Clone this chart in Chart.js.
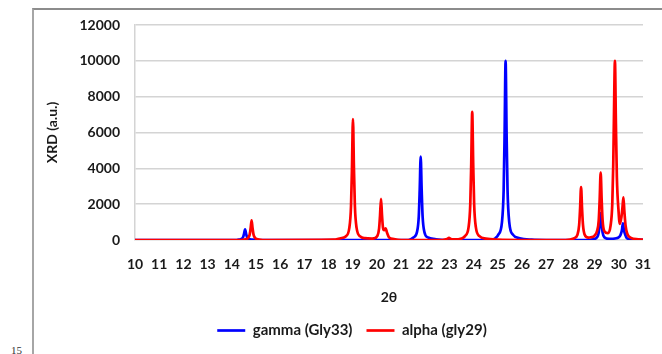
<!DOCTYPE html>
<html>
<head>
<meta charset="utf-8">
<script src="https://cdn.jsdelivr.net/npm/chart.js@4/dist/chart.umd.min.js"></script>
<style>
  html, body { margin: 0; padding: 0; background: #fff; }
  #wrap { position: relative; width: 662px; height: 354px; overflow: hidden; }
  #frame { position: absolute; left: 32px; top: 8px; right: -4px; bottom: -4px;
           border-left: 2px solid #a6a6a6; border-top: 2px solid #8c8c8c; }
  #pageno { position: absolute; left: 11px; top: 344px; font: 11px "Liberation Serif", serif; color: #333; }
  canvas { position: absolute; left: 0; top: 0; }
</style>
</head>
<body>
<div id="wrap">
  <div id="frame"></div>
  <span id="pageno">15</span>
  <canvas id="xrd" width="662" height="354"></canvas>
</div>
<script>
// 2-theta positions and intensities, per pattern
const gammaTheta = [10, 14.2, 14.3, 14.4, 14.47, 14.51, 14.55, 14.59, 14.63, 14.7, 14.85, 15.2,
  21.3, 21.51, 21.66, 21.73, 21.77, 21.81, 21.85, 21.89, 21.96, 22.11, 22.4, 22.8,
  24.7, 24.9, 25.02, 25.17, 25.24, 25.28, 25.32, 25.36, 25.4, 25.47, 25.62, 25.9, 26.4, 27,
  28.7, 28.95, 29.1, 29.17, 29.21, 29.25, 29.29, 29.33, 29.4, 29.6, 29.9, 30.0, 30.07, 30.13,
  30.17, 30.21, 30.27, 30.32, 30.5, 31];
const gammaXrd = [0, 0, 20, 60, 170, 360, 600, 360, 170, 60, 20, 0,
  0, 140, 465, 1300, 2800, 4650, 2800, 1300, 465, 140, 50, 0,
  0, 100, 300, 1000, 2800, 6000, 10000, 6000, 2800, 1000, 300, 100, 20, 0,
  0, 50, 150, 420, 900, 1500, 900, 420, 150, 60, 100, 150, 280, 560,
  930, 560, 280, 120, 40, 10];

const alphaTheta = [10, 14.4, 14.52, 14.67, 14.74, 14.78, 14.82, 14.86, 14.9, 14.97, 15.12, 15.5,
  18.2, 18.5, 18.71, 18.86, 18.93, 18.97, 19.01, 19.05, 19.09, 19.16, 19.31, 19.5, 19.8,
  19.87, 20.02, 20.09, 20.13, 20.17, 20.21, 20.25, 20.3, 20.36, 20.42, 20.5, 20.7, 21.0,
  22.7, 22.9, 22.98, 23.06, 23.2,
  23.5, 23.64, 23.79, 23.86, 23.9, 23.94, 23.98, 24.02, 24.09, 24.24, 24.5, 25.0, 26.0,
  27.8, 28.14, 28.29, 28.36, 28.4, 28.44, 28.48, 28.52, 28.59, 28.74, 28.85, 29.0, 29.1,
  29.17, 29.21, 29.25, 29.29, 29.33, 29.4, 29.55, 29.66, 29.73, 29.77, 29.8, 29.84, 29.88,
  29.92, 29.99, 30.04, 30.11, 30.15, 30.19, 30.23, 30.28, 30.35, 30.5, 30.8, 31];
const alphaXrd = [0, 0, 30, 110, 300, 660, 1100, 660, 300, 110, 30, 0,
  20, 100, 200, 675, 1900, 4050, 6750, 4050, 1900, 675, 200, 100, 80,
  90, 230, 640, 1380, 2300, 1400, 700, 550, 650, 400, 150, 50, 0,
  0, 50, 120, 50, 30,
  90, 215, 715, 2000, 4300, 7150, 4300, 2000, 715, 215, 80, 20, 0,
  0, 90, 295, 830, 1770, 2950, 1770, 830, 295, 130, 150, 250, 500,
  1100, 2300, 3760, 2300, 1100, 500, 380, 800, 2000, 4200, 7000, 10000, 6500,
  3500, 1600, 900, 1300, 1800, 2380, 1600, 800, 350, 120, 40, 20];

const seriesNames = ['gamma (Gly33)', 'alpha (gly29)'];
const thetaRange = [10, 31];
const xrdRange = [0, 12000];

function pairs(xs, ys) {
    return xs.map((x, i) => ({ x: x, y: ys[i] }));
}

const tickFont = { family: 'Lato', size: 14, weight: 'bold' };

new Chart(document.getElementById('xrd').getContext('2d'), {
    type: 'line',
    data: {
        datasets: [{
            label: seriesNames[0],
            data: pairs(gammaTheta, gammaXrd),
            borderColor: '#0000ff',
            backgroundColor: '#0000ff',
            borderWidth: 2.7,
            order: 1
        }, {
            label: seriesNames[1],
            data: pairs(alphaTheta, alphaXrd),
            borderColor: '#ff0000',
            backgroundColor: '#ff0000',
            borderWidth: 2.7,
            order: 0
        }]
    },
    options: {
        responsive: false,
        animation: false,
        events: [],
        elements: { point: { radius: 0 }, line: { cubicInterpolationMode: 'monotone' } },
        layout: { padding: { left: 61, right: 19, top: 25, bottom: 6 }, autoPadding: false },
        scales: {
            x: {
                type: 'linear',
                min: thetaRange[0],
                max: thetaRange[1],
                // tick gap comes from tickLength (marks hidden) so the edge labels don't eat the width
                grid: { display: false, drawTicks: true, tickLength: 16 },
                border: { display: false },
                ticks: { stepSize: 1, padding: 0, color: '#1a1a1a', font: tickFont, maxRotation: 0, autoSkip: false },
                title: { display: true, text: '2θ', color: '#1a1a1a', font: tickFont, padding: { top: 0, bottom: 3 } },
                afterFit: (axis) => { axis.height = 69; }
            },
            y: {
                min: xrdRange[0],
                max: xrdRange[1],
                grid: { color: '#d4d4d4', lineWidth: 1.5, drawTicks: false },
                border: { display: true, color: '#d4d4d4', width: 1.5 },
                ticks: { stepSize: 2000, padding: 15, color: '#1a1a1a', font: tickFont, format: { useGrouping: false } },
                title: {
                    display: true, text: 'XRD (a.u.)', color: '#1a1a1a',
                    font: { family: 'Lato', size: 14, weight: 'bold', lineHeight: 0.6 },
                    padding: { top: -13, bottom: 0 }
                },
                afterFit: (axis) => { axis.width = 74; }
            }
        },
        plugins: {
            tooltip: { enabled: false },
            legend: {
                position: 'bottom',
                labels: {
                    usePointStyle: true,
                    pointStyle: 'line',
                    pointStyleWidth: 28,
                    boxHeight: 3,
                    padding: 14,
                    color: '#1a1a1a',
                    font: { family: 'Lato', size: 15, weight: 'bold' },
                    sort: (a, b) => a.datasetIndex - b.datasetIndex
                }
            }
        }
    }
});
</script>
</body>
</html>
